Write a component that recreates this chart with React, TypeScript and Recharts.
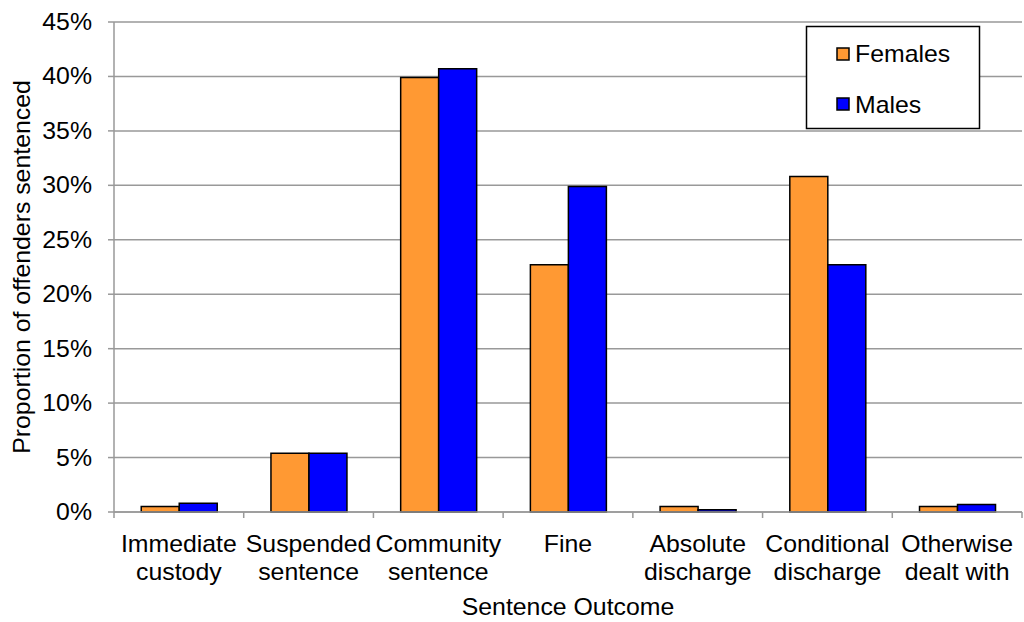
import React from 'react';
import { BarChart, Bar, XAxis, YAxis, CartesianGrid } from 'recharts';

const categories = [
  'Immediate\ncustody',
  'Suspended\nsentence',
  'Community\nsentence',
  'Fine',
  'Absolute\ndischarge',
  'Conditional\ndischarge',
  'Otherwise\ndealt with',
];
const females = [0.5, 5.4, 39.9, 22.7, 0.5, 30.8, 0.5];
const males = [0.8, 5.4, 40.7, 29.9, 0.2, 22.7, 0.7];
const yTicks = [0, 5, 10, 15, 20, 25, 30, 35, 40, 45];
const legendItems = [
  { label: 'Females', color: '#FF9933' },
  { label: 'Males', color: '#0000FF' },
];

const data = categories.map((name, i) => ({ name, females: females[i], males: males[i] }));

const FONT = '"Liberation Sans", Arial, sans-serif';
const FS = 23;
const SX = 1.08; // reference text is a little wider than plain Arial
const PLOT_LEFT = 114;
const PLOT_RIGHT = 1022;
const BAND = (PLOT_RIGHT - PLOT_LEFT) / categories.length;

const Txt = ({ x, y, anchor = 'start', children }: any) => (
  <g transform={`translate(${x},${y}) scale(${SX},1)`}>
    <text x={0} y={0} textAnchor={anchor} fill="#000" fontSize={FS} fontFamily={FONT}>
      {children}
    </text>
  </g>
);

const CategoryTick = (props: any) => {
  const { x, payload, index } = props;
  const axisY = 512;
  const lines = String(payload.value).split('\n');
  return (
    <g>
      <line x1={x - BAND / 2} x2={x - BAND / 2} y1={axisY} y2={axisY + 6} stroke="#999" strokeWidth={1.5} />
      {index === categories.length - 1 && (
        <line x1={x + BAND / 2} x2={x + BAND / 2} y1={axisY} y2={axisY + 6} stroke="#999" strokeWidth={1.5} />
      )}
      {lines.map((l, i) => (
        <Txt key={i} x={x} y={552 + i * 28} anchor="middle">
          {l}
        </Txt>
      ))}
    </g>
  );
};

const PercentTick = (props: any) => {
  const { x, y, payload } = props;
  return (
    <Txt x={x} y={y + 8} anchor="end">
      {`${payload.value}%`}
    </Txt>
  );
};

export default function App() {
  return (
    <div style={{ position: 'fixed', left: 0, top: 0, width: 1024, height: 622, background: '#fff' }}>
      <BarChart
        width={1024}
        height={622}
        data={data}
        margin={{ top: 22, right: 2, left: 0, bottom: 0 }}
        barCategoryGap="21%"
        barGap={0}
      >
        <CartesianGrid horizontal vertical={false} stroke="#999" strokeWidth={1.5} />
        <XAxis
          dataKey="name"
          interval={0}
          height={110}
          tickLine={false}
          axisLine={{ stroke: '#999', strokeWidth: 1.5 }}
          tick={<CategoryTick />}
        />
        <YAxis
          width={114}
          domain={[0, 45]}
          ticks={yTicks}
          interval={0}
          tickSize={6}
          tickMargin={16}
          tickLine={{ stroke: '#999', strokeWidth: 1.5 }}
          axisLine={{ stroke: '#999', strokeWidth: 1.5 }}
          tick={<PercentTick />}
        />
        <Bar dataKey="females" name="Females" fill="#FF9933" stroke="#000" strokeWidth={1.5} isAnimationActive={false} />
        <Bar dataKey="males" name="Males" fill="#0000FF" stroke="#000" strokeWidth={1.5} isAnimationActive={false} />
      </BarChart>

      {/* axis titles and legend box */}
      <svg width={1024} height={622} style={{ position: 'absolute', left: 0, top: 0, pointerEvents: 'none' }}>
        <Txt x={(PLOT_LEFT + PLOT_RIGHT) / 2} y={615} anchor="middle">
          Sentence Outcome
        </Txt>
        <g transform="translate(30,267) rotate(-90)">
          <text x={0} y={0} textAnchor="middle" fill="#000" fontSize={FS} fontFamily={FONT} transform={`scale(${SX},1)`}>
            Proportion of offenders sentenced
          </text>
        </g>
        <rect x={806.5} y={26.5} width={173} height={102} fill="#fff" stroke="#000" strokeWidth={1.5} />
        {legendItems.map((it, i) => (
          <g key={it.label}>
            <rect x={837} y={48 + i * 50} width={12} height={12} fill={it.color} stroke="#000" strokeWidth={1.5} />
            <Txt x={855} y={62 + i * 51}>
              {it.label}
            </Txt>
          </g>
        ))}
      </svg>
    </div>
  );
}
